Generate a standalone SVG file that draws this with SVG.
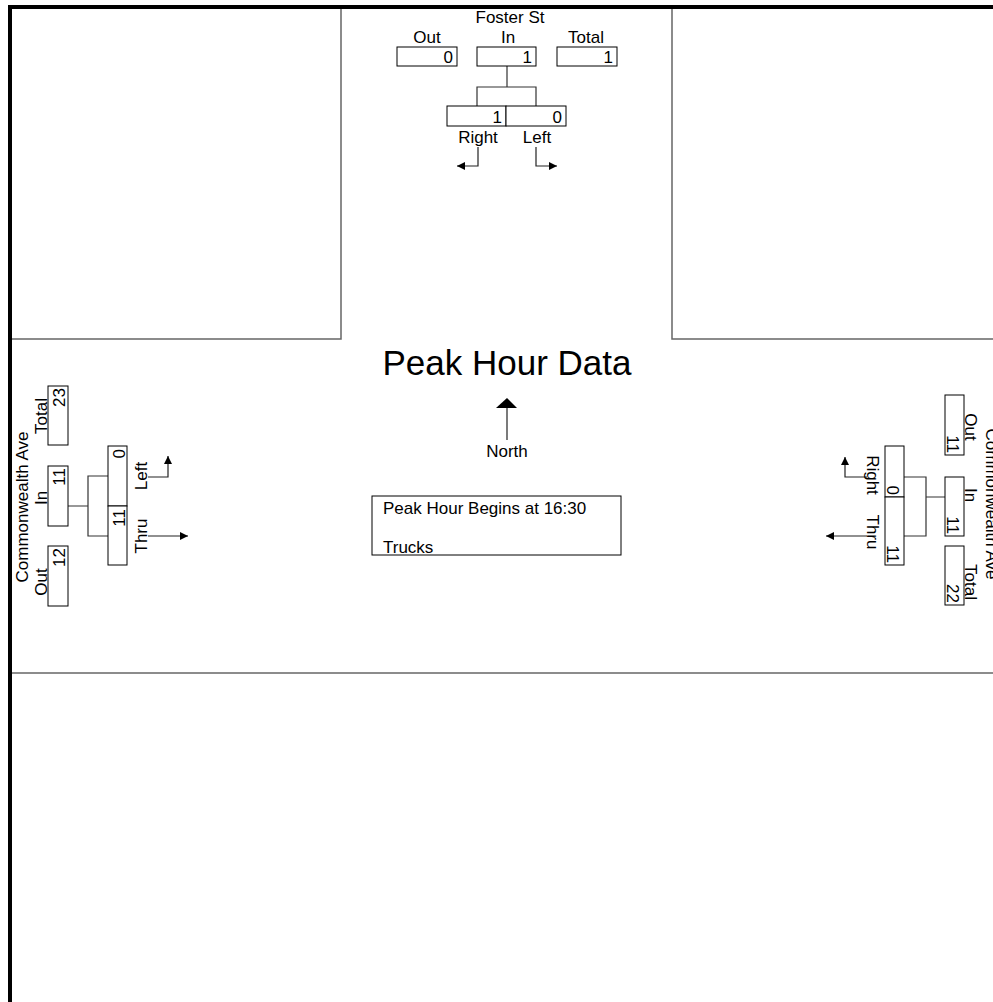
<svg xmlns="http://www.w3.org/2000/svg" width="993" height="1002" viewBox="0 0 993 1002">
<defs>
<style>
text{font-family:"Liberation Sans",Arial,sans-serif;font-size:17px;fill:#000}
.lbl{text-anchor:middle}
.val{text-anchor:end}
.box{fill:#fff;stroke:#000;stroke-width:1}
.conn{fill:none;stroke:#333;stroke-width:1.2}
.arr{fill:none;stroke:#222;stroke-width:1.2;marker-end:url(#ah)}
.blk{fill:none;stroke:#666;stroke-width:1.5}
</style>
<marker id="ah" viewBox="0 0 10 10" refX="10" refY="5" markerUnits="userSpaceOnUse" markerWidth="8" markerHeight="13" orient="auto"><path d="M0,0 L10,5 L0,10 z" fill="#000"/></marker>
</defs>
<rect width="993" height="1002" fill="#fff"/>
<g id="frame">
<path d="M341,9 V339 H12" class="blk"/>
<path d="M672,9 V339 H993" class="blk"/>
<path d="M12,673 H993" class="blk"/>
<path d="M8,7 H993 M10,5 V1002" fill="none" stroke="#000" stroke-width="4"/>
</g>
<g id="connectors">
<path d="M507,66 V87 M477,106 V87 H536 V106" class="conn"/>
<path d="M68,506 H88 M108,476 H88 V536 H108" class="conn"/>
<path d="M945,497 H926 M904,477 H926 V536 H904" class="conn"/>
<path d="M478,147 V166 H457" class="arr"/>
<path d="M536,147 V166 H557" class="arr"/>
<path d="M148,477 H168 V456" class="arr"/>
<path d="M148,536 H188" class="arr"/>
<path d="M867,477 H845 V457" class="arr"/>
<path d="M867,536 H826" class="arr"/>
<path d="M507,440 V408" fill="none" stroke="#222" stroke-width="1.2"/>
<polygon points="507,398 517,408 496,408" fill="#000"/>
</g>
<g id="foster">
<text x="510" y="23" class="lbl">Foster St</text>
<text x="427" y="43" class="lbl">Out</text>
<text x="508" y="43" class="lbl">In</text>
<text x="586" y="43" class="lbl">Total</text>
<rect x="397" y="47" width="60" height="19" class="box"/>
<text x="453" y="63" class="val">0</text>
<rect x="477" y="47" width="59" height="19" class="box"/>
<text x="532" y="63" class="val">1</text>
<rect x="557" y="47" width="60" height="19" class="box"/>
<text x="613" y="63" class="val">1</text>
<rect x="447" y="106" width="59" height="20" class="box"/>
<text x="502" y="123" class="val">1</text>
<rect x="506" y="106" width="60" height="20" class="box"/>
<text x="562" y="123" class="val">0</text>
<text x="478" y="143" class="lbl">Right</text>
<text x="537" y="143" class="lbl">Left</text>
</g>
<g id="commonwealth-west">
<text transform="translate(28,507) rotate(-90)" class="lbl">Commonwealth Ave</text>
<text transform="translate(47,416) rotate(-90)" class="lbl">Total</text>
<text transform="translate(47,498) rotate(-90)" class="lbl">In</text>
<text transform="translate(47,582) rotate(-90)" class="lbl">Out</text>
<rect x="48" y="386" width="20" height="59" class="box"/>
<text transform="translate(65,388) rotate(-90)" class="val">23</text>
<rect x="48" y="466" width="20" height="60" class="box"/>
<text transform="translate(65,468) rotate(-90)" class="val">11</text>
<rect x="48" y="546" width="20" height="60" class="box"/>
<text transform="translate(65,548) rotate(-90)" class="val">12</text>
<rect x="108" y="446" width="19" height="60" class="box"/>
<text transform="translate(125,449) rotate(-90)" class="val">0</text>
<rect x="108" y="506" width="19" height="59" class="box"/>
<text transform="translate(125,509) rotate(-90)" class="val">11</text>
<text transform="translate(147,476) rotate(-90)" class="lbl">Left</text>
<text transform="translate(147,536) rotate(-90)" class="lbl">Thru</text>
</g>
<g id="commonwealth-east">
<text transform="translate(986,504) rotate(90)" class="lbl">Commonwealth Ave</text>
<text transform="translate(965,427) rotate(90)" class="lbl">Out</text>
<text transform="translate(965,495) rotate(90)" class="lbl">In</text>
<text transform="translate(965,582) rotate(90)" class="lbl">Total</text>
<rect x="945" y="395" width="19" height="60" class="box"/>
<text transform="translate(947,453) rotate(90)" class="val">11</text>
<rect x="945" y="477" width="19" height="59" class="box"/>
<text transform="translate(947,534) rotate(90)" class="val">11</text>
<rect x="945" y="546" width="19" height="59" class="box"/>
<text transform="translate(947,603) rotate(90)" class="val">22</text>
<rect x="885" y="446" width="19" height="51" class="box"/>
<text transform="translate(887,495) rotate(90)" class="val">0</text>
<rect x="885" y="497" width="19" height="68" class="box"/>
<text transform="translate(887,563) rotate(90)" class="val">11</text>
<text transform="translate(867,475) rotate(90)" class="lbl">Right</text>
<text transform="translate(867,532) rotate(90)" class="lbl">Thru</text>
</g>
<g id="title">
<text x="507" y="375" class="lbl" style="font-size:35px">Peak Hour Data</text>
<text x="507" y="457" class="lbl">North</text>
</g>
<g id="info">
<rect x="372" y="496" width="249" height="59" class="box"/>
<text x="383" y="514">Peak Hour Begins at 16:30</text>
<text x="383" y="553">Trucks</text>
</g>
</svg>
